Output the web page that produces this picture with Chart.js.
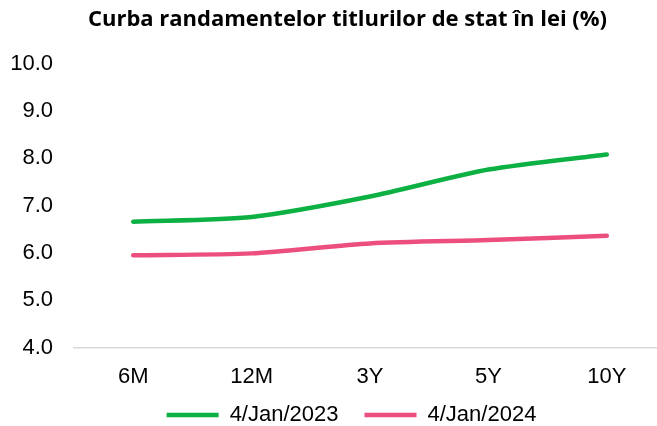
<!DOCTYPE html>
<html><head><meta charset="utf-8">
<script src="https://cdn.jsdelivr.net/npm/chart.js@4"></script>
<style>
html,body{margin:0;padding:0;width:657px;height:426px;overflow:hidden;background:#fff;}
#wrap{position:relative;width:666px;height:448px;}
</style></head>
<body><div id="wrap"><canvas id="c" width="666" height="448"></canvas></div>
<script>
const categories = ['6M','12M','3Y','5Y','10Y'];
const series2023 = [6.66, 6.76, 7.19, 7.76, 8.08];
const series2024 = [5.95, 5.99, 6.20, 6.27, 6.36];
const seriesNames = ['4/Jan/2023','4/Jan/2024'];
const titleText = 'Curba randamentelor titlurilor de stat în lei (%)';
const yMin = 4, yMax = 10, yStep = 1;

const GREEN = '#0db143', PINK = '#ec4f7e';
const FS = 22;
const LEG_PAD = 26;
const boxPlace = {
  id:'boxPlace',
  afterLayout(chart){
    const lg = chart.legend;
    const dx = 13;
    lg.left += dx; lg.right += dx;
    const h = lg.height;
    lg.top = 415 - LEG_PAD - FS/2;
    lg.bottom = lg.top + h;
    const tb = chart.titleBlock;
    if (tb) { tb.left += 9; tb.right += 9; }
  }
};
new Chart(document.getElementById('c'), {
  type:'line',
  data:{
    labels: categories,
    datasets:[
      {label:seriesNames[0], data:series2023, borderColor:GREEN, backgroundColor:GREEN, borderWidth:4.5, pointRadius:0, tension:0.25, borderCapStyle:'round'},
      {label:seriesNames[1], data:series2024, borderColor:PINK, backgroundColor:PINK, borderWidth:4.5, pointRadius:0, tension:0.25, borderCapStyle:'round'}
    ]
  },
  options:{
    responsive:false, animation:false,
    layout:{padding:{left:11,right:0,top:0,bottom:0}},
    plugins:{
      title:{display:true, text:titleText, color:'#000', font:{family:'Open Sans', size:22, weight:'bold'}, padding:{top:7,bottom:30.1}},
      legend:{position:'bottom', labels:{color:'#000', font:{family:'Liberation Sans', size:FS}, usePointStyle:true, pointStyle:'line', pointStyleWidth:52, padding:LEG_PAD}},
      tooltip:{enabled:false}
    },
    scales:{
      x:{offset:true, grid:{display:false, drawTicks:false}, border:{display:true, color:'#d9d9d9', width:1.5},
         afterFit(s){ s.height = 42.4; },
         ticks:{color:'#000', font:{family:'Liberation Sans', size:FS}, padding:16, maxRotation:0}},
      y:{min:yMin, max:yMax, grid:{display:false, drawTicks:false}, border:{display:false},
         afterFit(s){ s.width = 63; },
         ticks:{stepSize:yStep, color:'#000', font:{family:'Liberation Sans', size:FS}, padding:21,
                callback:v=>Number(v).toFixed(1)}}
    }
  },
  plugins:[boxPlace]
});
</script></body></html>
